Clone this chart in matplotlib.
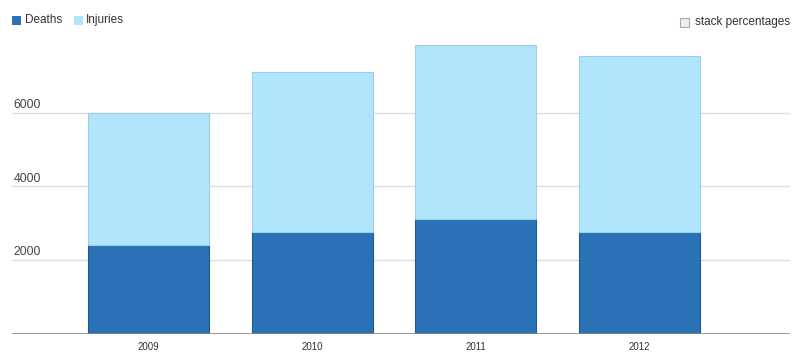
import matplotlib
matplotlib.use("Agg")
import matplotlib.pyplot as plt
from matplotlib.patches import Rectangle
import numpy as np

years = ['2009', '2010', '2011', '2012']
deaths = [2408, 2770, 3116, 2754]
injuries_total = [5990, 7124, 7842, 7559]
injuries = [t - d for t, d in zip(injuries_total, deaths)]

plt.rcParams['font.family'] = ['Liberation Sans', 'DejaVu Sans']

fig = plt.figure(figsize=(8, 3.6), dpi=100)
ax = fig.add_axes([0.015, 0.0736, 0.9725, 0.8167])

x = np.arange(len(years))
ax.bar(x, deaths, width=0.74, color='#2a72b5', edgecolor='#1f5a8f', linewidth=0.8, zorder=3)
ax.bar(x, injuries, width=0.74, bottom=deaths, color='#b0e5fb', edgecolor='#9fcfe3',
       linewidth=0.8, zorder=3)

ax.set_xlim(-0.835, 3.92)
ax.set_ylim(0, 8000)
for v in [2000, 4000, 6000]:
    ax.axhline(v, color='#dddddd', linewidth=1, zorder=1)
    ax.text(0.002, v + 50, str(v), transform=ax.get_yaxis_transform(),
            fontsize=8.7, color='#444444', ha='left', va='bottom')
ax.axhline(0, color='#888888', linewidth=1.2, zorder=4)

ax.set_yticks([])
ax.set_xticks(x)
ax.set_xticklabels(years, fontsize=7, color='#333333')
ax.tick_params(axis='x', length=0, pad=6)
for s in ax.spines.values():
    s.set_visible(False)

# legend
fig.patches.append(Rectangle((12 / 800, 1 - 25 / 360), 9 / 800, 9 / 360,
                             transform=fig.transFigure, facecolor='#2a72b5', edgecolor='none'))
fig.text(25 / 800, 1 - 20 / 360, 'Deaths', fontsize=8.5, color='#333333', va='center')
fig.patches.append(Rectangle((74 / 800, 1 - 25 / 360), 9 / 800, 9 / 360,
                             transform=fig.transFigure, facecolor='#b0e5fb', edgecolor='none'))
fig.text(86 / 800, 1 - 20 / 360, 'Injuries', fontsize=8.5, color='#333333', va='center')

# checkbox
fig.patches.append(Rectangle((680 / 800, 1 - 27 / 360), 9 / 800, 9 / 360,
                             transform=fig.transFigure, facecolor='#eeeeee',
                             edgecolor='#aaaaaa', linewidth=0.8))
fig.text(695 / 800, 1 - 22 / 360, 'stack percentages', fontsize=8.5, color='#333333', va='center')

fig.savefig('out.png', dpi=100)
